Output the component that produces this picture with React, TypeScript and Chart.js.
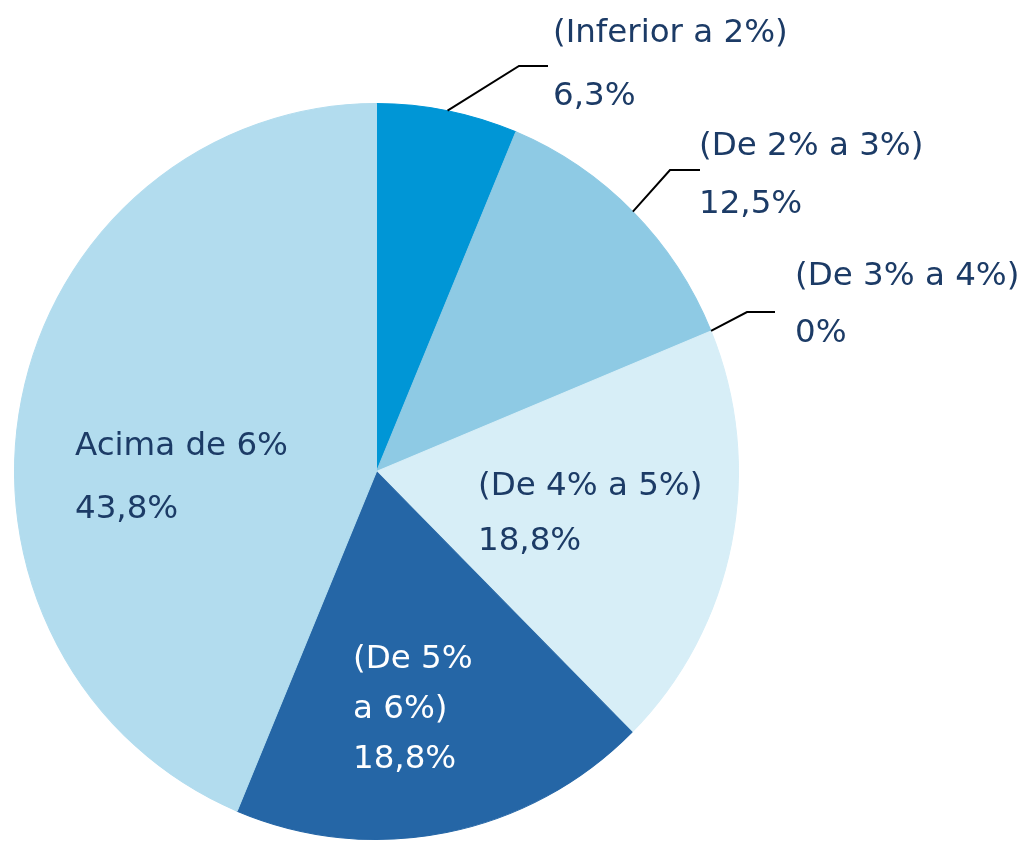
import React, { useEffect, useRef } from "react";
import { Chart, registerables } from "chart.js";

Chart.register(...registerables);

const categories = ["(Inferior a 2%)", "(De 2% a 3%)", "(De 3% a 4%)", "(De 4% a 5%)", "(De 5% a 6%)", "Acima de 6%"];
const values = [6.3, 12.5, 0, 18.8, 18.8, 43.8];
const valueLabels = ["6,3%", "12,5%", "0%", "18,8%", "18,8%", "43,8%"];
const labelLines = [
  ["(Inferior a 2%)"],
  ["(De 2% a 3%)"],
  ["(De 3% a 4%)"],
  ["(De 4% a 5%)"],
  ["(De 5%", "a 6%)"],
  ["Acima de 6%"],
];
const colors = ["#0096D6", "#8ECAE4", "#A9D8EC", "#D7EEF7", "#2566A6", "#B2DCEE"];
const textColors = ["#1C3B66", "#1C3B66", "#1C3B66", "#1C3B66", "#FFFFFF", "#1C3B66"];

// vertical stretch of the pie (reference is slightly taller than wide)
const yStretch = 1.0166;

// label layout: text x, baselines for each line (name lines then value), leader elbow/end (null = none)
const labelLayout = [
  { x: 553, ys: [42, 105], leader: [[519, 66], [548, 66]] },
  { x: 699, ys: [155, 213], leader: [[670, 170], [700, 170]] },
  { x: 795, ys: [285, 342], leader: [[747, 312], [775, 312]] },
  { x: 478, ys: [495, 550], leader: null },
  { x: 353, ys: [668, 718, 768], leader: null },
  { x: 75, ys: [455, 518], leader: null },
];

const stretchPlugin = {
  id: "stretch",
  beforeDatasetsDraw(chart: any) {
    const meta = chart.getDatasetMeta(0);
    const arc = meta.data[0];
    const ctx = chart.ctx;
    ctx.save();
    if (arc) {
      ctx.translate(arc.x, arc.y);
      ctx.scale(1, yStretch);
      ctx.translate(-arc.x, -arc.y);
    }
  },
  afterDatasetsDraw(chart: any) {
    chart.ctx.restore();
  },
};

const labelPlugin = {
  id: "pieLabels",
  afterDraw(chart: any) {
    const ctx = chart.ctx;
    const meta = chart.getDatasetMeta(0);
    ctx.save();
    ctx.font = "32.5px 'DejaVu Sans'";
    ctx.textAlign = "left";
    ctx.textBaseline = "alphabetic";
    meta.data.forEach((arc: any, i: number) => {
      const p = arc.getProps(["x", "y", "startAngle", "endAngle", "outerRadius"], true);
      const lay = labelLayout[i];
      if (lay.leader) {
        const mid = (p.startAngle + p.endAngle) / 2;
        const sx = p.x + Math.cos(mid) * p.outerRadius;
        const sy = p.y + Math.sin(mid) * p.outerRadius * yStretch;
        ctx.beginPath();
        ctx.strokeStyle = "#000000";
        ctx.lineWidth = 2;
        ctx.moveTo(sx, sy);
        ctx.lineTo(lay.leader[0][0], lay.leader[0][1]);
        ctx.lineTo(lay.leader[1][0], lay.leader[1][1]);
        ctx.stroke();
      }
      const lines = [...labelLines[i], valueLabels[i]];
      ctx.fillStyle = textColors[i];
      lines.forEach((t, j) => {
        ctx.fillText(t, lay.x, lay.ys[j]);
      });
    });
    ctx.restore();
  },
};

export default function App() {
  const ref = useRef<HTMLCanvasElement>(null);
  useEffect(() => {
    if (!ref.current) return;
    const chart = new Chart(ref.current, {
      type: "pie",
      data: {
        labels: categories,
        datasets: [
          {
            data: values,
            backgroundColor: colors,
            borderColor: colors,
            borderWidth: 1,
          },
        ],
      },
      options: {
        animation: false,
        responsive: false,
        layout: { padding: { left: 14, top: 109, right: 288, bottom: 7 } },
        plugins: {
          legend: { display: false },
          tooltip: { enabled: false },
        },
      },
      plugins: [stretchPlugin, labelPlugin],
    });
    return () => chart.destroy();
  }, []);
  return (
    <div style={{ position: "absolute", left: 0, top: 0, width: 1027, height: 841, background: "#FFFFFF" }}>
      <canvas ref={ref} width={1027} height={841} />
    </div>
  );
}
